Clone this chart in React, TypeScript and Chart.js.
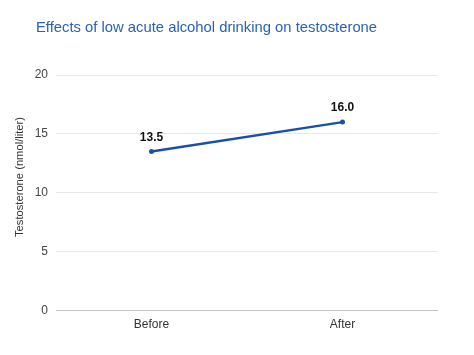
import React, { useEffect, useRef } from "react";
import { Chart, registerables } from "chart.js";

Chart.register(...registerables);

const categories = ["Before", "After"];
const testosterone = [13.5, 16.0];
const yTicks = [0, 5, 10, 15, 20];
const titleText = "Effects of low acute alcohol drinking on testosterone";
const yAxisTitle = "Testosterone (nmol/liter)";

const FONT = "'Liberation Sans', Arial, sans-serif";

const textPlugin = {
  id: "customText",
  afterDraw(chart: any) {
    const ctx = chart.ctx;
    ctx.save();
    ctx.font = `14.8px ${FONT}`;
    ctx.fillStyle = "#2a62b4";
    ctx.textAlign = "left";
    ctx.textBaseline = "middle";
    ctx.fillText(titleText, 36, 28);
    ctx.restore();

    ctx.save();
    ctx.translate(20, 177);
    ctx.rotate(-Math.PI / 2);
    ctx.font = `11.2px ${FONT}`;
    ctx.fillStyle = "#333";
    ctx.textAlign = "center";
    ctx.textBaseline = "middle";
    ctx.fillText(yAxisTitle, 0, 0);
    ctx.restore();
  },
};

const labelPlugin = {
  id: "pointLabels",
  afterDatasetsDraw(chart: any) {
    const ctx = chart.ctx;
    const meta = chart.getDatasetMeta(0);
    ctx.save();
    ctx.font = `bold 12px ${FONT}`;
    ctx.fillStyle = "#111";
    ctx.textAlign = "center";
    ctx.textBaseline = "bottom";
    meta.data.forEach((pt: any, i: number) => {
      const v = chart.data.datasets[0].data[i] as number;
      ctx.fillText(v.toFixed(1), pt.x, pt.y - 8);
    });
    ctx.restore();
  },
};

export default function App() {
  const ref = useRef<HTMLCanvasElement>(null);
  useEffect(() => {
    document.body.style.margin = "0";
    const chart = new Chart(ref.current!, {
      type: "line",
      data: {
        labels: categories,
        datasets: [
          {
            data: testosterone,
            borderColor: "#1a4fa8",
            backgroundColor: "#1a4fa8",
            borderWidth: 2.5,
            pointRadius: 2.5,
            pointBorderWidth: 0,
            tension: 0,
          },
        ],
      },
      options: {
        animation: false,
        responsive: false,
        maintainAspectRatio: false,
        layout: { padding: { top: 75, right: 36, bottom: 16, left: 0 } },
        plugins: {
          legend: { display: false },
          title: { display: false },
          tooltip: { enabled: false },
        },
        scales: {
          x: {
            offset: true,
            grid: { display: false, drawTicks: false },
            border: { display: false },
            ticks: { color: "#333", font: { family: FONT, size: 12 }, padding: 7 },
          },
          y: {
            min: 0,
            max: 20,
            afterBuildTicks: (s: any) => {
              s.ticks = yTicks.map((v) => ({ value: v }));
            },
            afterFit: (s: any) => {
              s.width = 56;
            },
            grid: {
              color: (c: any) => (c.tick && c.tick.value === 0 ? "#c4c4c4" : "#e8e8e8"),
              lineWidth: 1,
              drawTicks: false,
            },
            border: { display: false },
            ticks: { color: "#444", font: { family: FONT, size: 12 }, padding: 8 },
          },
        },
      },
      plugins: [textPlugin, labelPlugin],
    });
    return () => chart.destroy();
  }, []);
  return <canvas ref={ref} width={474} height={355} style={{ display: "block" }} />;
}
